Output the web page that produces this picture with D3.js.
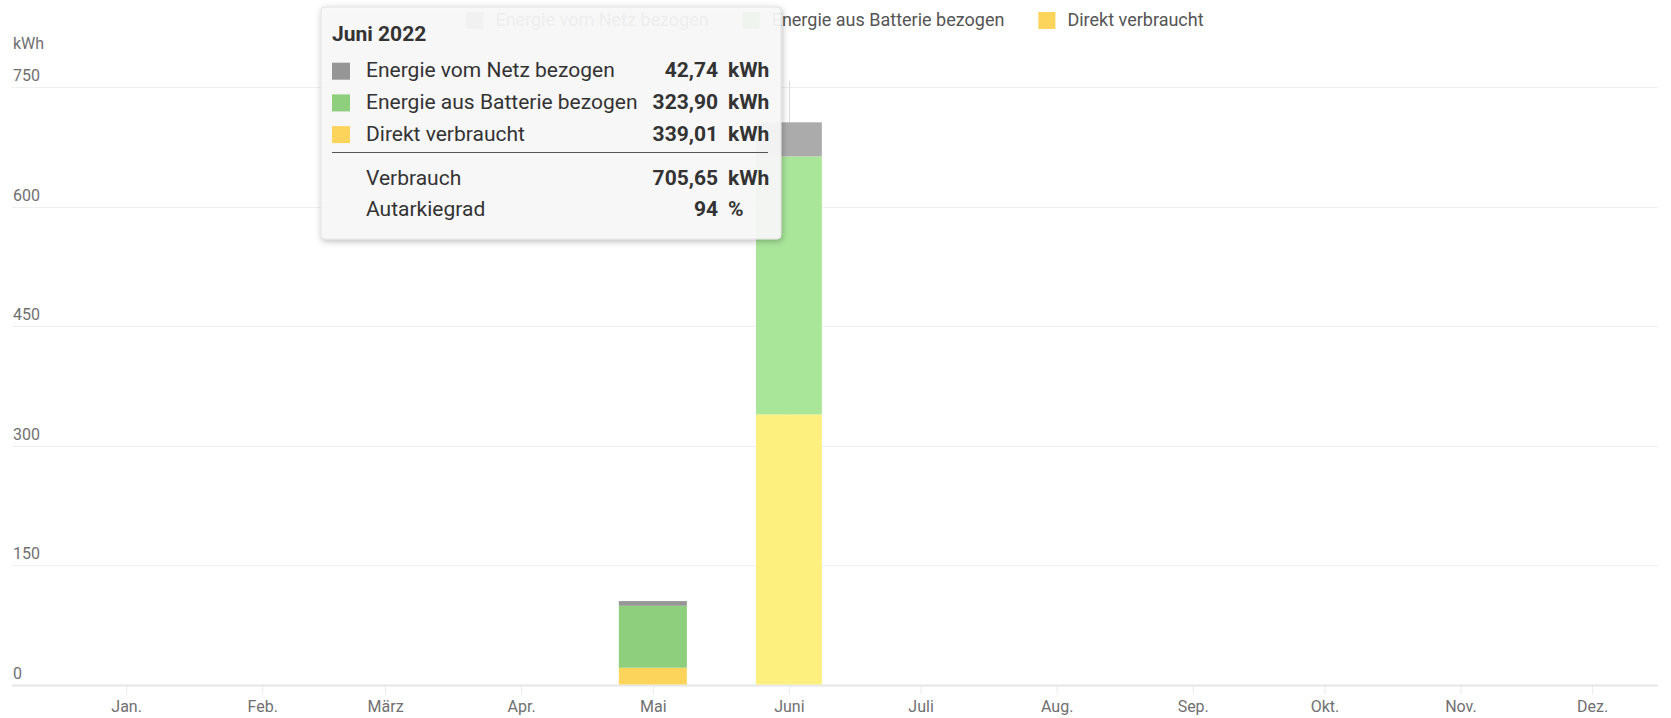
<!doctype html>
<html lang="de">
<head>
<meta charset="utf-8">
<title>Verbrauch 2022</title>
<script src="https://cdn.jsdelivr.net/npm/d3@7"></script>
<style>
  body { margin: 0; background: #fff; font-family: Roboto, "Open Sans", sans-serif; }
  .grid line { stroke: #efefef; }
  .tick-label { fill: #707070; font-size: 16px; }
  .legend text { fill: #555; font-size: 18px; }
  .tip text { fill: #333; font-size: 21px; }
</style>
</head>
<body>
<svg id="chart" width="1671" height="718"></svg>
<script>
// data (kWh per month, 2022)
var months = ["Jan.", "Feb.", "März", "Apr.", "Mai", "Juni", "Juli", "Aug.", "Sep.", "Okt.", "Nov.", "Dez."];
var monthNames = ["Januar", "Februar", "März", "April", "Mai", "Juni", "Juli", "August", "September", "Oktober", "November", "Dezember"];
var netz     = [0, 0, 0, 0, 5.9, 42.74, 0, 0, 0, 0, 0, 0];
var batterie = [0, 0, 0, 0, 77.8, 323.90, 0, 0, 0, 0, 0, 0];
var direkt   = [0, 0, 0, 0, 21.0, 339.01, 0, 0, 0, 0, 0, 0];
var yTicks = [0, 150, 300, 450, 600, 750];
var seriesNames = ["Energie vom Netz bezogen", "Energie aus Batterie bezogen", "Direkt verbraucht"];
var year = 2022;
var hovered = 5; // Juni

var colors = ["#969696", "#8ecf7e", "#fcd35b"];
var hoverColors = ["#ababab", "#a9e69a", "#fdf07e"];

var de = d3.formatLocale({decimal: ",", thousands: ".", grouping: [3], currency: ["", " €"]});
var fmt2 = de.format(",.2f");

var svg = d3.select("#chart");
var plotLeft = 12, plotRight = 1658, plotTop = 87, plotBottom = 684.5;

var x = d3.scaleUtc()
    .domain([new Date(Date.UTC(year - 1, 11, 6)), new Date(Date.UTC(year, 11, 16))])
    .range([plotLeft, plotRight]);
var y = d3.scaleLinear().domain([0, 750]).range([plotBottom, plotTop]);

var monthDate = function (i) { return new Date(Date.UTC(year, i, 1)); };

// gridlines
svg.append("g").attr("class", "grid")
  .selectAll("line").data(yTicks.slice(1)).enter().append("line")
    .attr("x1", plotLeft).attr("x2", plotRight)
    .attr("y1", function (d) { return Math.round(y(d)) + 0.5; })
    .attr("y2", function (d) { return Math.round(y(d)) + 0.5; });

// y labels
svg.append("text").attr("class", "tick-label").attr("x", 13).attr("y", 45)
    .attr("dominant-baseline", "middle").text("kWh");
svg.selectAll(".ylab").data(yTicks).enter().append("text")
    .attr("class", "tick-label ylab")
    .attr("x", 13).attr("y", function (d) { return y(d) - 10; })
    .attr("dominant-baseline", "middle")
    .text(function (d) { return d; });

// crosshair behind hovered bar
svg.append("line")
    .attr("x1", Math.round(x(monthDate(hovered))) + 0.5).attr("x2", Math.round(x(monthDate(hovered))) + 0.5)
    .attr("y1", plotTop - 6).attr("y2", plotBottom)
    .attr("stroke", "#dcdcdc");

// x axis
var xAxis = d3.axisBottom(x)
    .tickValues(months.map(function (m, i) { return monthDate(i); }))
    .tickFormat(function (d) { return months[d.getUTCMonth()]; })
    .tickSize(10).tickPadding(6);
var gx = svg.append("g").attr("transform", "translate(0," + plotBottom + ")").call(xAxis);
gx.select(".domain").remove();
gx.selectAll(".tick line").attr("stroke", "#e9e9e9");
gx.selectAll(".tick text").attr("fill", "#707070").attr("font-size", 16)
    .attr("font-family", "Roboto, sans-serif");
svg.append("line").attr("x1", plotLeft).attr("x2", plotRight)
    .attr("y1", plotBottom + 1).attr("y2", plotBottom + 1)
    .attr("stroke", "#e6e6e6").attr("stroke-width", 2);

// stacked bars
var rows = months.map(function (m, i) {
  return {month: i, direkt: direkt[i], batterie: batterie[i], netz: netz[i]};
});
var stack = d3.stack().keys(["direkt", "batterie", "netz"]);
var layers = stack(rows);
var colorIdx = {direkt: 2, batterie: 1, netz: 0};

layers.forEach(function (layer) {
  svg.append("g").selectAll("rect").data(layer).enter().append("rect")
    .attr("x", function (d) {
      var i = d.data.month, w = (x(monthDate(i + 1)) - x(monthDate(i))) / 2;
      return x(monthDate(i)) - w / 2;
    })
    .attr("width", function (d) {
      var i = d.data.month;
      return (x(monthDate(i + 1)) - x(monthDate(i))) / 2;
    })
    .attr("y", function (d) { return y(d[1]); })
    .attr("height", function (d) { return y(d[0]) - y(d[1]); })
    .attr("fill", function (d) {
      var c = colorIdx[layer.key];
      return d.data.month === hovered ? hoverColors[c] : colors[c];
    });
});

// legend (centered above plot)
var legend = svg.append("g").attr("class", "legend");
var items = legend.selectAll("g").data(seriesNames).enter().append("g");
items.append("rect").attr("width", 17).attr("height", 17).attr("y", 12)
    .attr("fill", function (d, i) { return colors[i]; });
items.append("text").attr("x", 29).attr("y", 21).attr("dominant-baseline", "middle")
    .text(function (d) { return d; });
var pos = 0, offsets = [];
items.each(function () {
  offsets.push(pos);
  pos += 29 + d3.select(this).select("text").node().getComputedTextLength() + 34;
});
pos -= 34;
var lx = (plotLeft + plotRight) / 2 - pos / 2;
items.attr("transform", function (d, i) { return "translate(" + (lx + offsets[i]) + ",0)"; });

// tooltip
var defs = svg.append("defs");
var f = defs.append("filter").attr("id", "shadow").attr("x", "-10%").attr("y", "-10%")
    .attr("width", "120%").attr("height", "130%");
f.append("feDropShadow").attr("dx", 1).attr("dy", 2).attr("stdDeviation", 3)
    .attr("flood-color", "#000").attr("flood-opacity", 0.28);

var tx = 321, ty = 7, tw = 460, th = 232;
var tip = svg.append("g").attr("class", "tip").attr("transform", "translate(" + tx + "," + ty + ")");
tip.append("rect").attr("width", tw).attr("height", th).attr("rx", 4)
    .attr("fill", "#f8f8f8").attr("fill-opacity", 0.92)
    .attr("stroke", "#e2e2e2").attr("filter", "url(#shadow)");
tip.append("text").attr("x", 11).attr("y", 28).attr("dominant-baseline", "middle")
    .attr("font-weight", "bold").text(monthNames[hovered] + " " + year);

var vals = [netz[hovered], batterie[hovered], direkt[hovered]];
var total = d3.sum(vals);
var autarkie = Math.round((1 - netz[hovered] / total) * 100);
var numX = 397, unitX = 407, rowH = 31.7;

vals.forEach(function (v, i) {
  var ry = 64.7 + i * rowH;
  tip.append("rect").attr("x", 11).attr("y", ry - 9).attr("width", 18).attr("height", 17)
      .attr("fill", colors[i]);
  tip.append("text").attr("x", 45).attr("y", ry).attr("dominant-baseline", "middle").text(seriesNames[i]);
  tip.append("text").attr("x", numX).attr("y", ry).attr("dominant-baseline", "middle")
      .attr("text-anchor", "end").attr("font-weight", "bold").text(fmt2(v));
  tip.append("text").attr("x", unitX).attr("y", ry).attr("dominant-baseline", "middle")
      .attr("font-weight", "bold").text("kWh");
});
tip.append("line").attr("x1", 11).attr("x2", 447).attr("y1", 145.5).attr("y2", 145.5)
    .attr("stroke", "#555");

var extra = [["Verbrauch", fmt2(total), "kWh"], ["Autarkiegrad", String(autarkie), "%"]];
extra.forEach(function (r, i) {
  var ry = 172 + i * rowH;
  tip.append("text").attr("x", 45).attr("y", ry).attr("dominant-baseline", "middle").text(r[0]);
  tip.append("text").attr("x", numX).attr("y", ry).attr("dominant-baseline", "middle")
      .attr("text-anchor", "end").attr("font-weight", "bold").text(r[1]);
  tip.append("text").attr("x", unitX).attr("y", ry).attr("dominant-baseline", "middle")
      .attr("font-weight", "bold").text(r[2]);
});
</script>
</body>
</html>
